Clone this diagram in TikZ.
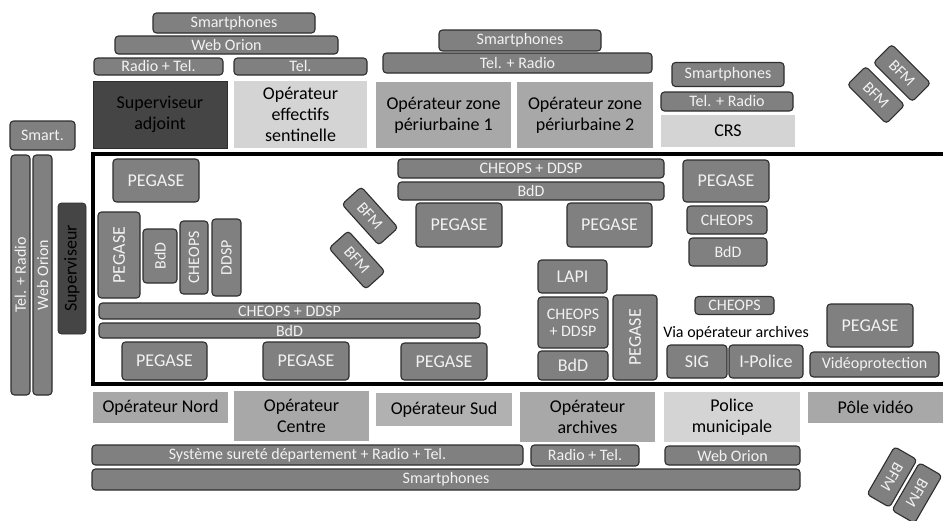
\documentclass[tikz,border=0pt]{standalone}
\usepackage{fontspec}
\setmainfont{Carlito}
\definecolor{toolfill}{HTML}{808080}
\definecolor{tooldraw}{HTML}{2E2E2E}
\definecolor{tooltext}{HTML}{F2F2F2}
\definecolor{postdark}{HTML}{454545}
\definecolor{postmid}{HTML}{A8A8A8}
\definecolor{postlight}{HTML}{D4D4D4}
\begin{document}
\begin{tikzpicture}[x=1pt, y=-1pt]
\tikzstyle{tool}      = [rectangle, rounded corners=3.5pt, fill=toolfill, draw=tooldraw, line width=1.1pt, text=tooltext, inner sep=0pt, font=\fontsize{16}{17}\selectfont, align=center]
\tikzstyle{tool_big}  = [tool, font=\fontsize{18}{20}\selectfont]
\tikzstyle{tool_v}    = [tool, rotate=90]
\tikzstyle{post}      = [rectangle, fill=postmid, inner sep=0pt, text=black, font=\fontsize{18}{21}\selectfont, align=center]
\tikzstyle{post_light}= [post, fill=postlight]
\tikzstyle{post_dark} = [post, fill=postdark, draw=tooldraw, line width=0.8pt]
\tikzstyle{bfm}       = [tool, minimum width=55, minimum height=26]

\useasboundingbox (0,0) rectangle (943,520);

% zone frame
\coordinate (frame_tr) at (945,154);
\coordinate (frame_tl) at (93,154);
\coordinate (frame_bl) at (93,384);
\coordinate (frame_br) at (945,384);
\draw [line width=4pt] (frame_tr) -- (frame_tl) -- (frame_bl) -- (frame_br);

% top: supervision and sentinelle
\node (smart_sup)    [tool, minimum width=162, minimum height=20] at (234,23)    {Smartphones};
\node (web_sup)      [tool, minimum width=223, minimum height=18] at (226.5,45)  {Web Orion};
\node (radiotel_sup) [tool, minimum width=129, minimum height=17] at (158.5,66.5) {Radio + Tel.};
\node (tel_sent)     [tool, minimum width=133, minimum height=17] at (300.5,66.5) {Tel.};
\node (supadj)       [post_dark,  minimum width=134, minimum height=67] at (160,114.5)   {Superviseur\\adjoint};
\node (opsent)       [post_light, minimum width=133, minimum height=67] at (300.5,114.5) {Opérateur\\effectifs\\sentinelle};

% top: zones periurbaines
\node (smart_zone)    [tool, minimum width=162, minimum height=21] at (520,40.5)  {Smartphones};
\node (telradio_zone) [tool, minimum width=269, minimum height=20] at (517.5,63)  {Tel. + Radio};
\node (opzone1)       [post, minimum width=135, minimum height=66] at (443.5,115) {Opérateur zone\\périurbaine 1};
\node (opzone2)       [post, minimum width=136, minimum height=66] at (585,115)   {Opérateur zone\\périurbaine 2};

% top: CRS
\node (smart_crs)    [tool, minimum width=112, minimum height=24] at (728,74.5)  {Smartphones};
\node (telradio_crs) [tool, minimum width=132, minimum height=19] at (727,101.5) {Tel. + Radio};
\node (crs)          [post_light, minimum width=134, minimum height=32] at (728,131) {CRS};
\node (bfm_tr1)      [bfm, rotate=-45] at (902,73) {BFM};
\node (bfm_tr2)      [bfm, rotate=-45] at (876,95) {BFM};

% left: superviseur
\node (smart_left)    [tool, minimum width=65, minimum height=29] at (42.5,135.5) {Smart.};
\node (telradio_left) [tool_v, minimum width=240, minimum height=19] at (20.5,275) {Tel. + Radio};
\node (web_left)      [tool_v, minimum width=240, minimum height=19] at (42.5,275) {Web Orion};
\node (superviseur)   [post_dark, rounded corners=3.5pt, rotate=90, minimum width=131, minimum height=28] at (72,268.5) {Superviseur};

% inside: Nord / Centre / Sud
\node (peg_nord)      [tool_big, minimum width=86, minimum height=43] at (156,180.5) {PEGASE};
\node (peg_v_nord)    [tool_big, rotate=90, minimum width=86, minimum height=42] at (119,255) {PEGASE};
\node (bdd_v)         [tool_v, minimum width=54, minimum height=34] at (160,256)   {BdD};
\node (cheops_v)      [tool_v, minimum width=73, minimum height=28] at (194,257.5) {CHEOPS};
\node (ddsp_v)        [tool_v, minimum width=77, minimum height=29] at (226.5,257.5) {DDSP};
\node (cd_left)       [tool, minimum width=381, minimum height=16] at (289.5,311)   {CHEOPS + DDSP};
\node (bdd_left)      [tool, minimum width=381, minimum height=15] at (289.5,330.5) {BdD};
\node (peg_b1)        [tool_big, minimum width=85, minimum height=38] at (164.5,361) {PEGASE};
\node (peg_b2)        [tool_big, minimum width=86, minimum height=38] at (306,361)   {PEGASE};
\node (peg_b3)        [tool_big, minimum width=86, minimum height=37] at (444,361.5) {PEGASE};
\node (bfm_m1)        [bfm, rotate=-48] at (370,216) {BFM};
\node (bfm_m2)        [bfm, rotate=-48] at (357,260) {BFM};

% inside: zones periurbaines
\node (cd_top)        [tool, minimum width=266, minimum height=19] at (531,168.5) {CHEOPS + DDSP};
\node (bdd_top)       [tool, minimum width=266, minimum height=18] at (531,191)   {BdD};
\node (peg_z1)        [tool_big, minimum width=86, minimum height=44] at (459,225)   {PEGASE};
\node (peg_z2)        [tool_big, minimum width=85, minimum height=44] at (609.5,225) {PEGASE};

% inside: archives
\node (lapi)          [tool_big, minimum width=69, minimum height=33] at (572.5,276.5) {LAPI};
\node (cd_arch)       [tool, minimum width=70, minimum height=51] at (573,322.5) {CHEOPS\\+ DDSP};
\node (bdd_arch)      [tool_big, minimum width=70, minimum height=29] at (573,365.5) {BdD};
\node (peg_v_arch)    [tool_big, rotate=90, minimum width=85, minimum height=44] at (635,337.5) {PEGASE};

% inside: CRS
\node (peg_crs)       [tool_big, minimum width=86, minimum height=42] at (726,181) {PEGASE};
\node (cheops_crs)    [tool, minimum width=80, minimum height=28] at (727,220) {CHEOPS};
\node (bdd_crs)       [tool, minimum width=78, minimum height=28] at (728,252) {BdD};

% inside: police municipale and video
\node (cheops_pm)     [tool, minimum width=79, minimum height=18] at (734.5,305.5) {CHEOPS};
\node (via)           [text=black, inner sep=0pt, font=\fontsize{16}{17}\selectfont] at (736,333) {Via opérateur archives};
\node (sig)           [tool_big, minimum width=60, minimum height=33] at (697,361.5) {SIG};
\node (ipolice)       [tool_big, minimum width=74, minimum height=33] at (766,361.5) {I-Police};
\node (peg_video)     [tool_big, minimum width=86, minimum height=43] at (870,325.5) {PEGASE};
\node (videoprot)     [tool, minimum width=129, minimum height=25] at (874.5,364.5) {Vidéoprotection};

% bottom: operators
\node (opnord)   [post, minimum width=135, minimum height=31] at (160.5,407.5) {Opérateur Nord};
\node (opcentre) [post, minimum width=135, minimum height=50] at (301.5,416)   {Opérateur\\Centre};
\node (opsud)    [post, fill=postmid!90!white, minimum width=136, minimum height=33] at (444,409.5) {Opérateur Sud};
\node (oparch)   [post, minimum width=135, minimum height=50] at (587.5,417) {Opérateur\\archives};
\node (police)   [post_light, minimum width=136, minimum height=50] at (732,417) {Police\\municipale};
\node (pole)     [post, minimum width=135, minimum height=31] at (875.5,407.5) {Pôle vidéo};

% bottom: tools
\node (sys_bot)      [tool, minimum width=431, minimum height=20] at (307.5,455) {Système sureté département + Radio + Tel.};
\node (radiotel_bot) [tool, minimum width=108, minimum height=21] at (585,455.5) {Radio + Tel.};
\node (web_bot)      [tool, minimum width=135, minimum height=19] at (732.5,455.5) {Web Orion};
\node (smart_bot)    [tool, minimum width=708, minimum height=21] at (446,479.5) {Smartphones};
\node (bfm_br1)      [bfm, rotate=-120] at (892,477) {BFM};
\node (bfm_br2)      [bfm, rotate=-120] at (917,493) {BFM};
\end{tikzpicture}
\end{document}
